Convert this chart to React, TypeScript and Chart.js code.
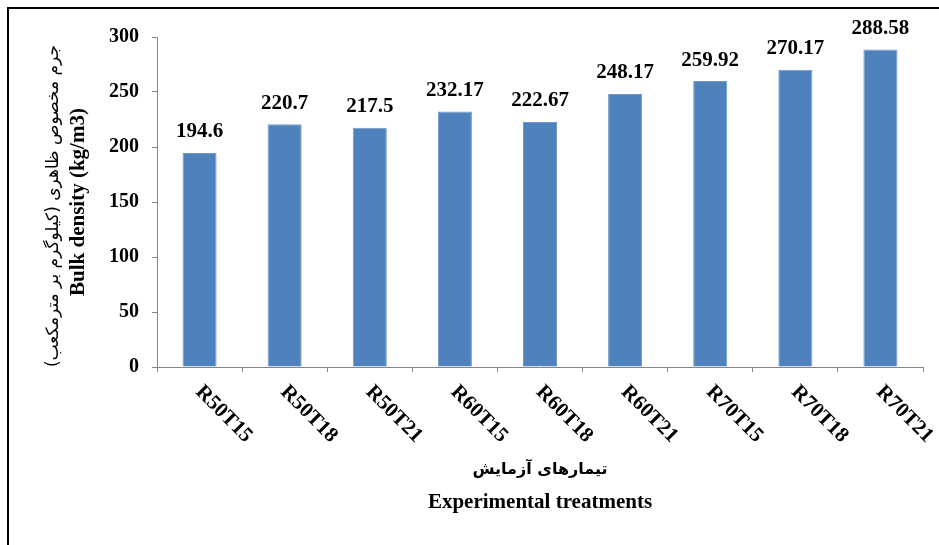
import React, { useEffect, useRef } from "react";
import { Chart, registerables } from "chart.js";

Chart.register(...registerables);

// Treatments on the x axis
const categories = ["R50T15", "R50T18", "R50T21", "R60T15", "R60T18", "R60T21", "R70T15", "R70T18", "R70T21"];
// Bulk density (kg/m3) per treatment
const bulkDensity = [194.6, 220.7, 217.5, 232.17, 222.67, 248.17, 259.92, 270.17, 288.58];
// Value axis range
const yMin = 0;
const yMax = 300;
const yStep = 50;

const yTitleFa = "جرم مخصوص ظاهری (کیلوگرم بر مترمکعب)";
const yTitleEn = "Bulk density (kg/m3)";
const xTitleFa = "تیمارهای آزمایش";
const xTitleEn = "Experimental treatments";

const SERIF = "'Liberation Serif', 'Times New Roman', serif";
const ARABIC = "'DejaVu Sans', sans-serif";
const AXIS_GRAY = "#868686";

const W = 932;
const H = 538;

const decorPlugin = {
  id: "decor",
  afterDatasetsDraw(chart: any) {
    const ctx = chart.ctx as CanvasRenderingContext2D;
    const meta = chart.getDatasetMeta(0);
    ctx.save();
    ctx.fillStyle = "#000";
    ctx.font = `bold 21px ${SERIF}`;
    ctx.textAlign = "center";
    ctx.textBaseline = "middle";
    meta.data.forEach((bar: any, i: number) => {
      ctx.fillText(String(bulkDensity[i]), bar.x, bar.y - 21);
    });
    ctx.restore();
  },
  afterDraw(chart: any) {
    const ctx = chart.ctx as CanvasRenderingContext2D;
    const area = chart.chartArea;
    const xScale = chart.scales.x;
    ctx.save();

    // frame lines
    ctx.fillStyle = "#000";
    ctx.fillRect(0, 0, 2, H);
    ctx.fillRect(0, 0, W, 2);

    // slanted category labels
    ctx.font = `bold 21px ${SERIF}`;
    ctx.textAlign = "left";
    ctx.textBaseline = "middle";
    categories.forEach((c, i) => {
      const cx = xScale.getPixelForValue(i);
      ctx.save();
      ctx.translate(cx - 1, area.bottom + 22);
      ctx.rotate(Math.PI / 4);
      ctx.fillText(c, 0, 0);
      ctx.restore();
    });

    // x axis titles
    const midX = (area.left + area.right) / 2;
    ctx.textAlign = "center";
    ctx.direction = "rtl";
    ctx.font = `bold 16px ${ARABIC}`;
    ctx.fillText(xTitleFa, midX, 463);
    ctx.direction = "ltr";
    ctx.font = `bold 21px ${SERIF}`;
    ctx.fillText(xTitleEn, midX, 496);

    // y axis titles
    const midY = (area.top + area.bottom) / 2;
    ctx.save();
    ctx.translate(47, midY + 4);
    ctx.rotate(-Math.PI / 2);
    ctx.direction = "rtl";
    ctx.font = `17px ${ARABIC}`;
    ctx.fillText(yTitleFa, 0, 0);
    ctx.restore();

    ctx.save();
    ctx.translate(72, midY);
    ctx.rotate(-Math.PI / 2);
    ctx.direction = "ltr";
    ctx.font = `bold 21px ${SERIF}`;
    ctx.fillText(yTitleEn, 0, 0);
    ctx.restore();

    ctx.restore();
  },
};

export default function App() {
  const canvasRef = useRef<HTMLCanvasElement | null>(null);

  useEffect(() => {
    const canvas = canvasRef.current;
    if (!canvas) return;
    const chart = new Chart(canvas, {
      type: "bar",
      data: {
        labels: categories,
        datasets: [
          {
            data: bulkDensity,
            backgroundColor: "#4F81BD",
            borderColor: "#7098CC",
            borderWidth: 1,
            barPercentage: 0.4,
            categoryPercentage: 1,
          },
        ],
      },
      options: {
        animation: false,
        responsive: false,
        maintainAspectRatio: false,
        devicePixelRatio: 1,
        layout: { padding: { left: 90, right: 16, top: 30, bottom: 138 } },
        plugins: {
          legend: { display: false },
          tooltip: { enabled: false },
          title: { display: false },
        },
        scales: {
          x: {
            offset: true,
            grid: {
              offset: true,
              drawOnChartArea: false,
              drawTicks: true,
              tickLength: 5,
              color: AXIS_GRAY,
            },
            border: { display: true, color: AXIS_GRAY, width: 1 },
            ticks: { display: false },
            afterFit(scale: any) {
              scale.height = 40;
            },
          },
          y: {
            min: yMin,
            max: yMax,
            grid: {
              drawOnChartArea: false,
              drawTicks: true,
              tickLength: 5,
              color: AXIS_GRAY,
            },
            border: { display: true, color: AXIS_GRAY, width: 1 },
            ticks: {
              stepSize: yStep,
              padding: 13,
              color: "#000",
              font: { family: SERIF, size: 20, weight: "bold" },
            },
            afterFit(scale: any) {
              scale.width = 60;
            },
          },
        },
      },
      plugins: [decorPlugin],
    });
    return () => chart.destroy();
  }, []);

  return (
    <div style={{ position: "absolute", left: 7, top: 7, width: W, height: H }}>
      <canvas ref={canvasRef} width={W} height={H} style={{ display: "block", width: W, height: H }} />
    </div>
  );
}
